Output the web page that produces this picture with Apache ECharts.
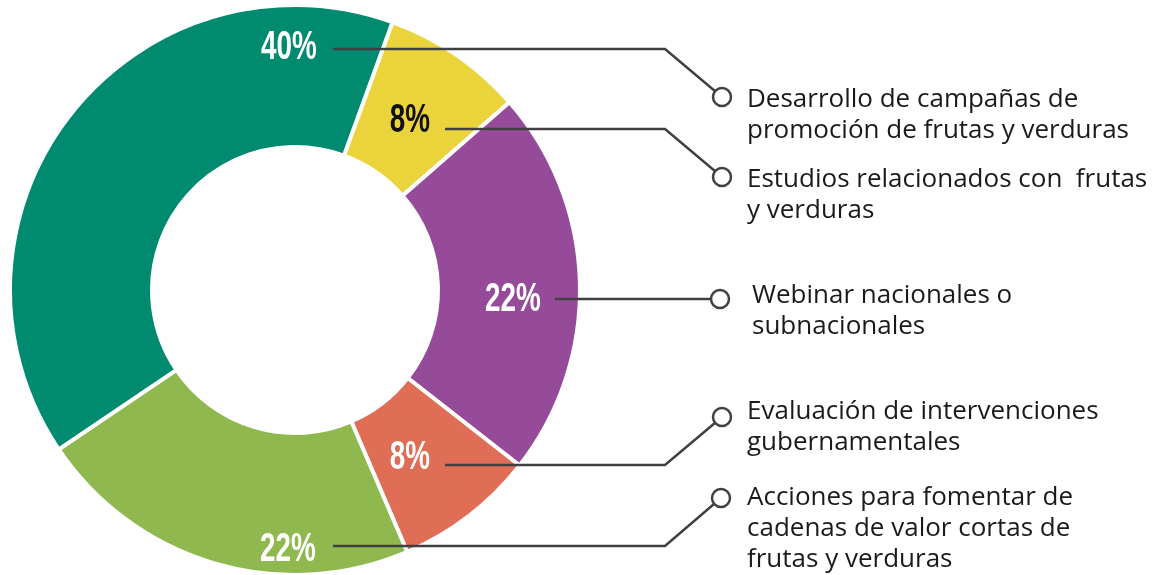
<!DOCTYPE html>
<html>
<head>
<meta charset="utf-8">
<script src="https://cdn.jsdelivr.net/npm/echarts@6/dist/echarts.min.js"></script>
<style>
  html, body { margin: 0; padding: 0; background: #fff; }
  #chart { width: 1153px; height: 575px; }
</style>
</head>
<body>
<div id="chart"></div>
<script>
// Données du graphique
const categories = [
    'Estudios relacionados con  frutas\ny verduras',
    'Webinar nacionales o\nsubnacionales',
    'Evaluación de intervenciones\ngubernamentales',
    'Acciones para fomentar de\ncadenas de valor cortas de\nfrutas y verduras',
    'Desarrollo de campañas de\npromoción de frutas y verduras'
];
const values = [8, 22, 8, 22, 40];
const colors = ['#ebd43b', '#964a9a', '#e06d55', '#8fb94f', '#008a6f'];
const labelColors = ['#111111', '#ffffff', '#ffffff', '#ffffff', '#ffffff'];

// Mise en page des annotations (étiquettes, traits, légende)
const layout = [
    { label: [410, 121], lineY: 129, lineX: 445, bendX: 665, dot: [722, 177], textPos: [747, 180] },
    { label: [513, 300], lineY: 299, lineX: 555, bendX: 700, dot: [720, 299], textPos: [752, 296] },
    { label: [410, 458], lineY: 465, lineX: 445, bendX: 665, dot: [722, 417], textPos: [747, 412] },
    { label: [288, 550], lineY: 546, lineX: 333, bendX: 665, dot: [721, 498], textPos: [747, 498] },
    { label: [289, 48], lineY: 49, lineX: 333, bendX: 665, dot: [722, 97], textPos: [747, 100] }
];

const chart = echarts.init(document.getElementById('chart'), null, { renderer: 'canvas' });

const graphics = [];
values.forEach((v, i) => {
    const l = layout[i];
    // Trait de rappel
    graphics.push({
        type: 'polyline',
        z: 10,
        shape: { points: [[l.lineX, l.lineY], [l.bendX, l.lineY], l.dot] },
        style: { stroke: '#404040', lineWidth: 2.5, fill: null }
    });
    // Petit cercle
    graphics.push({
        type: 'circle',
        z: 11,
        shape: { cx: l.dot[0], cy: l.dot[1], r: 9 },
        style: { fill: '#fff', stroke: '#404040', lineWidth: 2.5 }
    });
    // Pourcentage
    graphics.push({
        type: 'text',
        z: 12,
        x: l.label[0],
        y: l.label[1],
        scaleX: 0.68,
        style: {
            text: v + '%',
            fill: labelColors[i],
            font: 'bold 41px "Liberation Sans", Arial, sans-serif',
            textAlign: 'center',
            textVerticalAlign: 'middle'
        }
    });
    // Texte de légende
    graphics.push({
        type: 'text',
        z: 12,
        x: l.textPos[0],
        y: l.textPos[1] - 16,
        style: {
            text: categories[i],
            fill: '#1a1a1a',
            font: '26px "Open Sans"',
            lineHeight: 31,
            textAlign: 'left',
            textVerticalAlign: 'top'
        }
    });
});

const option = {
    animation: false,
    series: [
        {
            type: 'pie',
            center: [295, 290],
            radius: [143, 285],
            startAngle: 70,
            clockwise: true,
            silent: true,
            label: { show: false },
            labelLine: { show: false },
            itemStyle: { borderColor: '#ffffff', borderWidth: 4 },
            data: values.map((v, i) => ({
                name: categories[i],
                value: v,
                itemStyle: { color: colors[i] }
            }))
        }
    ],
    graphic: graphics
};

chart.setOption(option);
</script>
</body>
</html>
